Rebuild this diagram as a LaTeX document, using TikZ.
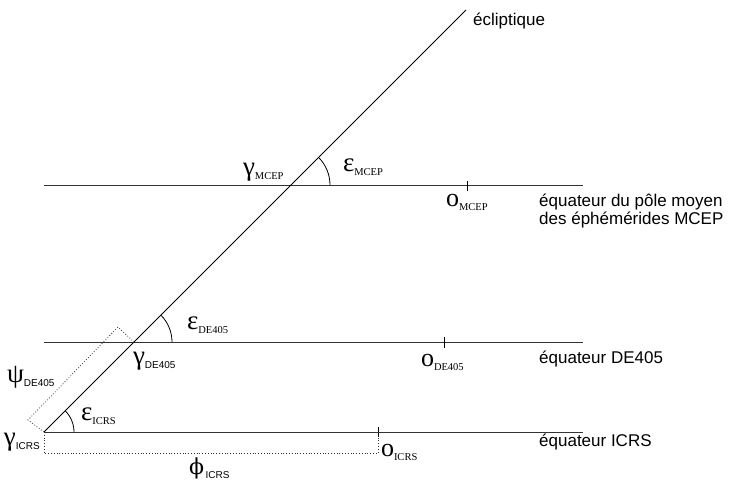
\documentclass[tikz,border=0pt]{standalone}
\usepackage{fontspec}
\setmainfont{Liberation Serif}
\setsansfont{Liberation Sans}
\newfontfamily\grk{Liberation Serif}
\newfontfamily\grkb{DejaVu Serif}
\newcommand\gsr[2]{{\fontsize{27}{27}\selectfont\grk #1}\raisebox{-4.5pt}{\fontsize{10.5}{11}\selectfont\rmfamily #2}}
\newcommand\gss[2]{{\fontsize{27}{27}\selectfont\grk #1}\raisebox{-4.5pt}{\fontsize{10}{11}\selectfont\sffamily #2}}
\newcommand\osr[1]{{\fontsize{26}{26}\selectfont\grk ο}\raisebox{-4.5pt}{\fontsize{10.5}{11}\selectfont\rmfamily #1}}
\newcommand\phs[1]{{\fontsize{22}{22}\selectfont\grkb ϕ}\raisebox{-4.5pt}{\fontsize{10}{11}\selectfont\sffamily #1}}
\tikzset{
  eqline/.style={draw=black!80, line width=1pt},
  ecl/.style={draw=black, line width=0.8pt},
  tickmark/.style={draw=black, line width=0.8pt},
  helper/.style={draw=black!80, dotted, line width=0.8pt},
  anglearc/.style={draw=black, line width=0.8pt},
  lbl/.style={anchor=base west, inner sep=0pt, outer sep=0pt},
  txt/.style={anchor=west, inner sep=0pt, font=\sffamily\fontsize{17}{16}\selectfont, align=left}
}
\begin{document}
\begin{tikzpicture}[x=1pt,y=-1pt]
\useasboundingbox (0,0) rectangle (732,485);
% coordinates
\coordinate (eS) at (44,432);
\coordinate (eE) at (466,10);
\coordinate (mL) at (44,185);  \coordinate (mR) at (583,185);
\coordinate (dL) at (44,342);  \coordinate (dR) at (583,342);
\coordinate (iL) at (44,432);  \coordinate (iR) at (583,432);
\coordinate (gM) at (291,185);
\coordinate (gD) at (134,342);
\coordinate (tM1) at (467,181); \coordinate (tM2) at (467,191);
\coordinate (tD1) at (444,337); \coordinate (tD2) at (444,348);
\coordinate (tI1) at (378,427); \coordinate (tI2) at (378,437);
\coordinate (oI) at (378,432);
\coordinate (pB) at (28,420);
\coordinate (pC) at (118,327);
\coordinate (qA) at (44,453);
\coordinate (qB) at (378,453);
% lines
\draw[eqline] (mL) -- (mR);
\draw[eqline] (dL) -- (dR);
\draw[eqline] (iL) -- (iR);
\draw[ecl] (eS) -- (eE);
\draw[tickmark] (tM1) -- (tM2);
\draw[tickmark] (tD1) -- (tD2);
\draw[tickmark] (tI1) -- (tI2);
\draw[helper] (eS) -- (pB) -- (pC) -- (gD);
\draw[helper] (iL) -- (qA) -- (qB) -- (oI);
% angle arcs
\draw[anglearc] ([xshift=30pt]eS) arc[start angle=0, end angle=45, radius=30pt];
\draw[anglearc] ([xshift=38pt]gD) arc[start angle=0, end angle=45, radius=38pt];
\draw[anglearc] ([xshift=39pt]gM) arc[start angle=0, end angle=45, radius=39pt];
% labels
\node[lbl] (lgM) at (243,175) {\gsr{γ}{MCEP}};
\node[lbl] (leM) at (343,171) {\gsr{ε}{MCEP}};
\node[lbl] (loM) at (446,206) {\osr{MCEP}};
\node[lbl] (leD) at (187,329) {\gsr{ε}{DE405}};
\node[lbl] (lgD) at (133,364) {\gss{γ}{DE405}};
\node[lbl] (loD) at (421,366) {\osr{DE405}};
\node[lbl] (lpD) at (7,382) {\gss{ψ}{DE405}};
\node[lbl] (leI) at (81,420) {\gsr{ε}{ICRS}};
\node[lbl] (lgI) at (4,445) {\gss{γ}{ICRS}};
\node[lbl] (loI) at (381,456) {\osr{ICRS}};
\node[lbl] (lfI) at (189,474) {\phs{\,ICRS}};
% texts
\node[txt] (tEcl) at (473,21) {écliptique};
\node[txt] (tM) at (539,211) {équateur du pôle moyen\\des éphémérides MCEP};
\node[txt] (tD) at (539,359) {équateur DE405};
\node[txt] (tI) at (539,442) {équateur ICRS};
\end{tikzpicture}
\end{document}
